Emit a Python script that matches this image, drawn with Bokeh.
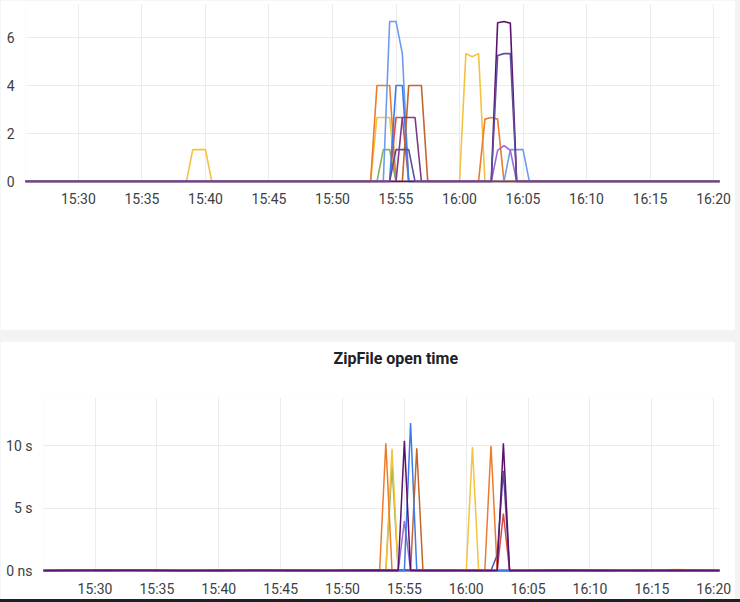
import pandas as pd
from bokeh.plotting import figure
from bokeh.models import (Range1d, FixedTicker, DatetimeTickFormatter, Spacer, ColumnDataSource, Title)
from bokeh.layouts import column
from bokeh.embed import file_html
from bokeh.resources import INLINE

DAY = "2024-05-14 "

# ---------------- axis data ----------------
x_tick_labels = ["15:30", "15:35", "15:40", "15:45", "15:50", "15:55", "16:00",
                 "16:05", "16:10", "16:15", "16:20"]
x_start = "15:25:50"
x_end = "16:20:28"

top_y_ticks = [0, 2, 4, 6]
top_y_range = (-0.04, 7.377)

bottom_title = "ZipFile open time"
bottom_y_ticks = [0, 5, 10]
bottom_y_labels = ["0 ns", "5 s", "10 s"]
bottom_y_range = (-0.1, 13.84)

# ---------------- top chart series ----------------
top_yellow_t = ["15:25:30", "15:38:30", "15:39:00", "15:40:00", "15:40:30", "15:53:00", "15:53:30",
                "15:54:30", "15:55:00", "16:00:00", "16:00:30", "16:01:00", "16:01:30", "16:02:00", "16:20:30"]
top_yellow_v = [0, 0, 1.33, 1.33, 0, 0, 2.67, 2.67, 0, 0, 5.33, 5.2, 5.33, 0, 0]

top_orange_t = ["15:25:30", "15:53:00", "15:53:30", "15:54:30", "15:55:00", "16:01:30", "16:02:00",
                "16:02:30", "16:03:00", "16:03:30", "16:20:30"]
top_orange_v = [0, 0, 4, 4, 0, 0, 2.6, 2.67, 2.6, 0, 0]

top_red_t = ["15:25:30", "15:54:30", "15:55:00", "15:55:30", "15:56:00", "16:20:30"]
top_red_v = [0, 0, 2.67, 2.67, 0, 0]

top_green_t = ["15:25:30", "15:53:30", "15:54:00", "15:54:30", "15:55:00", "16:20:30"]
top_green_v = [0, 0, 1.33, 1.33, 0, 0]

top_lightblue_t = ["15:25:30", "15:54:00", "15:54:30", "15:55:00", "15:55:30", "15:56:00", "16:03:30",
                   "16:04:00", "16:05:00", "16:05:30", "16:20:30"]
top_lightblue_v = [0, 0, 6.67, 6.67, 5.33, 0, 0, 1.33, 1.33, 0, 0]

top_blue_t = ["15:25:30", "15:54:30", "15:55:00", "15:55:30", "15:56:00", "16:20:30"]
top_blue_v = [0, 0, 4, 4, 0, 0]

top_brown_t = ["15:25:30", "15:55:30", "15:56:00", "15:57:00", "15:57:30", "16:20:30"]
top_brown_v = [0, 0, 4, 4, 0, 0]

top_plum_t = ["15:25:30", "15:55:00", "15:55:30", "15:56:30", "15:57:00", "16:20:30"]
top_plum_v = [0, 0, 2.67, 2.67, 0, 0]

top_lightpurple_t = ["15:25:30", "16:02:30", "16:03:00", "16:03:30", "16:04:00", "16:04:30", "16:20:30"]
top_lightpurple_v = [0, 0, 1.3, 1.5, 1.3, 0, 0]

top_darkpurple_t = ["15:25:30", "16:02:30", "16:03:00", "16:03:30", "16:04:00", "16:04:30", "16:20:30"]
top_darkpurple_v = [0, 0, 6.62, 6.67, 6.6, 0, 0]

top_slate_t = ["15:25:30", "15:54:30", "15:55:00", "15:56:00", "15:56:30", "16:02:30", "16:03:00",
               "16:03:30", "16:04:00", "16:04:30", "16:20:30"]
top_slate_v = [0, 0, 1.33, 1.33, 0, 0, 5.25, 5.33, 5.33, 0, 0]

# ---------------- bottom chart series (seconds) ----------------
bot_base_t = ["15:25:30", "15:28:00", "15:31:00", "15:34:00", "15:37:00", "15:40:00", "15:43:00",
              "15:46:00", "15:49:00", "15:52:00", "15:58:00", "16:05:00", "16:08:00", "16:11:00",
              "16:14:00", "16:17:00", "16:20:30"]
bot_yellow_base = [0.08, 0.04, 0.12, 0.06, 0.03, 0.10, 0.05, 0.11, 0.04, 0.08, 0.06, 0.10, 0.04, 0.12, 0.05, 0.13, 0.05]
bot_orange_base = [0.05, 0.10, 0.03, 0.09, 0.11, 0.04, 0.08, 0.03, 0.10, 0.05, 0.11, 0.04, 0.09, 0.12, 0.04, 0.09, 0.06]
bot_red_base = [0.04, 0.08, 0.11, 0.03, 0.07, 0.12, 0.04, 0.09, 0.05, 0.11, 0.04, 0.07, 0.12, 0.04, 0.10, 0.05, 0.08]
bot_green_base = [0.03, 0.06, 0.02, 0.08, 0.04, 0.02, 0.07, 0.03, 0.06, 0.02, 0.05, 0.02, 0.06, 0.03, 0.07, 0.02, 0.04]
bot_lightblue_base = [0.06, 0.03, 0.08, 0.05, 0.09, 0.04, 0.03, 0.07, 0.08, 0.03, 0.06, 0.05, 0.03, 0.08, 0.04, 0.06, 0.03]
bot_blue_base = [0.03, 0.06, 0.05, 0.03, 0.06, 0.08, 0.03, 0.05, 0.03, 0.07, 0.04, 0.06, 0.03, 0.05, 0.08, 0.03, 0.04]
bot_brown_base = [0.07, 0.04, 0.09, 0.05, 0.03, 0.07, 0.10, 0.04, 0.08, 0.03, 0.07, 0.03, 0.06, 0.05, 0.09, 0.04, 0.06]
bot_plum_base = [0.09, 0.06, 0.05, 0.10, 0.07, 0.05, 0.08, 0.06, 0.04, 0.09, 0.10, 0.05, 0.07, 0.04, 0.05, 0.08, 0.07]
bot_lightpurple_base = [0.04, 0.09, 0.06, 0.03, 0.10, 0.05, 0.04, 0.08, 0.06, 0.04, 0.03, 0.08, 0.04, 0.09, 0.03, 0.06, 0.04]
bot_darkpurple_base = [0.06, 0.05, 0.08, 0.07, 0.04, 0.06, 0.08, 0.05, 0.06, 0.08, 0.05, 0.06, 0.08, 0.05, 0.06, 0.08, 0.06]
bot_slate_base = [0.05, 0.07, 0.04, 0.06, 0.08, 0.04, 0.06, 0.08, 0.05, 0.06, 0.08, 0.05, 0.06, 0.07, 0.04, 0.06, 0.05]

bot_yellow_t = ["15:53:30", "15:54:00", "15:54:30", "16:00:00", "16:00:30", "16:01:00"]
bot_yellow_v = [0.06, 9.75, 0.06, 0.06, 9.9, 0.06]
bot_orange_t = ["15:53:00", "15:53:30", "15:54:00", "16:01:30", "16:02:00", "16:02:30"]
bot_orange_v = [0.06, 10.2, 0.06, 0.06, 10.0, 0.06]
bot_red_t = ["16:02:30", "16:03:00", "16:03:30"]
bot_red_v = [0.06, 4.6, 0.06]
bot_green_t = ["15:53:30", "15:54:00", "15:54:30"]
bot_green_v = [0.06, 8.4, 0.06]
bot_lightblue_t = []
bot_lightblue_v = []
bot_blue_t = ["15:55:00", "15:55:30", "15:56:00"]
bot_blue_v = [0.06, 11.8, 0.06]
bot_brown_t = ["15:55:30", "15:56:00", "15:56:30"]
bot_brown_v = [0.06, 9.8, 0.06]
bot_plum_t = []
bot_plum_v = []
bot_lightpurple_t = ["15:54:30", "15:55:00", "15:55:30"]
bot_lightpurple_v = [0.06, 4.0, 0.06]
bot_darkpurple_t = ["15:54:30", "15:55:00", "15:55:30", "16:02:30", "16:03:00", "16:03:30"]
bot_darkpurple_v = [0.06, 10.4, 0.06, 0.06, 10.2, 0.06]
bot_slate_t = ["16:02:00", "16:02:30", "16:03:00", "16:03:30"]
bot_slate_v = [0.06, 1.3, 8.0, 0.06]

series_colors = {
    "yellow": "#F3C23E", "orange": "#EE7A2C", "red": "#DB4B44", "green": "#82B35A",
    "lightblue": "#6E9BF0", "blue": "#3C7BE8", "brown": "#C4652C", "plum": "#7E3A88",
    "lightpurple": "#9A6AD6", "darkpurple": "#5A126C", "slate": "#5E4C9C",
}
top_order = ["yellow", "orange", "red", "green", "lightblue", "blue", "brown", "plum",
             "lightpurple", "darkpurple", "slate"]
bot_order = ["green", "lightblue", "plum", "brown", "yellow", "orange", "red", "lightpurple",
             "slate", "blue", "darkpurple"]


def ts(s):
    return pd.Timestamp(DAY + s)


def ms(s):
    return ts(s).value // 10**6


x_range = Range1d(ts(x_start), ts(x_end))
tick_ms = [ms(t) for t in x_tick_labels]
fmt = DatetimeTickFormatter(minutes="%H:%M", hourmin="%H:%M", hours="%H:%M", minsec="%H:%M")

TICK_FONT = "Roboto"
TICK_COLOR = "#3c4043"
GRID = "#ebebeb"


def style(p, yticks, ystandoff):
    if "frame_align" in p.properties():
        p.frame_align = False
    p.xaxis.ticker = FixedTicker(ticks=tick_ms)
    p.xaxis.formatter = fmt
    p.yaxis.ticker = FixedTicker(ticks=yticks)
    for ax in (p.xaxis[0], p.yaxis[0]):
        ax.axis_line_color = None
        ax.major_tick_line_color = None
        ax.minor_tick_line_color = None
        ax.major_tick_out = 0
        ax.major_tick_in = 0
        ax.minor_tick_out = 0
        ax.minor_tick_in = 0
        ax.major_label_text_font = TICK_FONT
        ax.major_label_text_font_size = "14px"
        ax.major_label_text_color = TICK_COLOR
    p.xaxis.major_label_standoff = 8
    p.yaxis.major_label_standoff = ystandoff
    p.xgrid.ticker = FixedTicker(ticks=tick_ms)
    p.ygrid.ticker = FixedTicker(ticks=yticks)
    p.grid.grid_line_color = GRID
    p.outline_line_color = None
    p.background_fill_color = "white"
    p.border_fill_color = "white"


# ---------------- top figure ----------------
p1 = figure(width=735, height=330, x_range=x_range, y_range=Range1d(*top_y_range),
            x_axis_type="datetime", output_backend="svg", toolbar_location=None,
            min_border_left=25, min_border_right=16, min_border_top=4, min_border_bottom=148)
style(p1, top_y_ticks, 11)

top_data = {
    "yellow": (top_yellow_t, top_yellow_v), "orange": (top_orange_t, top_orange_v),
    "red": (top_red_t, top_red_v), "green": (top_green_t, top_green_v),
    "lightblue": (top_lightblue_t, top_lightblue_v), "blue": (top_blue_t, top_blue_v),
    "brown": (top_brown_t, top_brown_v), "plum": (top_plum_t, top_plum_v),
    "lightpurple": (top_lightpurple_t, top_lightpurple_v),
    "darkpurple": (top_darkpurple_t, top_darkpurple_v), "slate": (top_slate_t, top_slate_v),
}
for name in top_order:
    t, v = top_data[name]
    src = ColumnDataSource(dict(x=[ts(s) for s in t], y=v))
    p1.line("x", "y", source=src, line_color=series_colors[name], line_width=1.6)

# ---------------- bottom figure ----------------
p2 = figure(width=735, height=258, x_range=x_range, y_range=Range1d(*bottom_y_range),
            x_axis_type="datetime", output_backend="svg", toolbar_location=None,
            min_border_left=43, min_border_right=16, min_border_top=56, min_border_bottom=25)
style(p2, bottom_y_ticks, 11)
p2.yaxis.major_label_overrides = {k: lab for k, lab in zip(bottom_y_ticks, bottom_y_labels)}
p2.title.text = ""
# blank spacer panel between the title and the frame
p2.add_layout(Title(text=" ", text_font_size="10px", standoff=17), "above")
p2.add_layout(Title(text=bottom_title, text_font="Roboto", text_font_style="bold",
                    text_font_size="16px", text_color="#202124", align="left",
                    offset=290, standoff=0), "above")

bot_data = {
    "yellow": (bot_yellow_base, bot_yellow_t, bot_yellow_v),
    "orange": (bot_orange_base, bot_orange_t, bot_orange_v),
    "red": (bot_red_base, bot_red_t, bot_red_v),
    "green": (bot_green_base, bot_green_t, bot_green_v),
    "lightblue": (bot_lightblue_base, bot_lightblue_t, bot_lightblue_v),
    "blue": (bot_blue_base, bot_blue_t, bot_blue_v),
    "brown": (bot_brown_base, bot_brown_t, bot_brown_v),
    "plum": (bot_plum_base, bot_plum_t, bot_plum_v),
    "lightpurple": (bot_lightpurple_base, bot_lightpurple_t, bot_lightpurple_v),
    "darkpurple": (bot_darkpurple_base, bot_darkpurple_t, bot_darkpurple_v),
    "slate": (bot_slate_base, bot_slate_t, bot_slate_v),
}
for name in bot_order:
    base_v, st, sv = bot_data[name]
    pts = sorted(list(zip(bot_base_t, base_v)) + list(zip(st, sv)), key=lambda p: ts(p[0]))
    src = ColumnDataSource(dict(x=[ts(p[0]) for p in pts], y=[p[1] for p in pts]))
    p2.line("x", "y", source=src, line_color=series_colors[name], line_width=1.5)

gap = Spacer(width=740, height=11)
edge = Spacer(width=740, height=3, styles={"background-color": "#202124"})
layout = column(p1, gap, p2, edge, spacing=0, width=740,
                styles={"background-color": "#f1f3f4"})

open("out.html", "w").write(file_html(layout, INLINE))
